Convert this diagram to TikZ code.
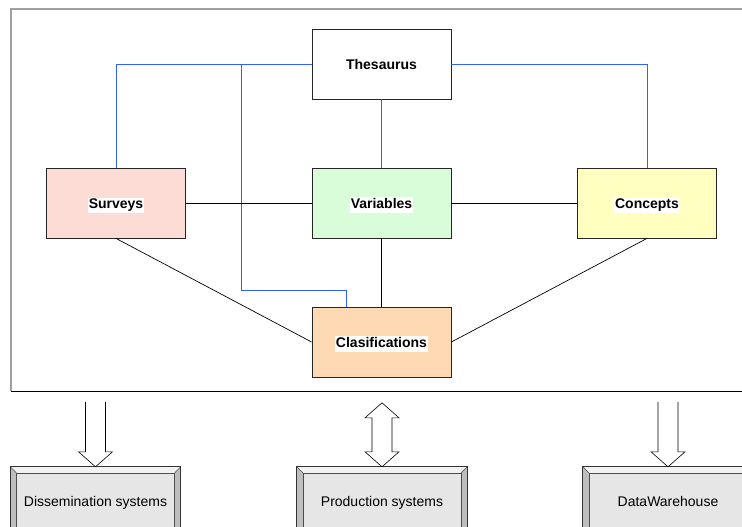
\documentclass[tikz,border=0pt]{standalone}
\usepackage{fontspec}
\setmainfont{Liberation Sans}
\usetikzlibrary{calc}
\definecolor{linkblue}{RGB}{50,95,255}
\definecolor{survfill}{RGB}{252,220,212}
\definecolor{varfill}{RGB}{217,252,217}
\definecolor{concfill}{RGB}{255,255,192}
\definecolor{clasfill}{RGB}{255,217,179}
\definecolor{sysface}{RGB}{230,230,230}
\definecolor{systop}{RGB}{242,242,242}
\definecolor{sysside}{RGB}{190,190,190}
\setlength{\fboxsep}{1.2pt}
% white-backed label, set a little below the box centre
\newcommand\boxlabel[1]{\rule{0pt}{15.5pt}\colorbox{white}{\vphantom{Tg}#1}}
\newcommand\systext[1]{\vphantom{Tg}#1}
% raised (bevelled) panel drawn on top of a node
\newcommand\bevelpanel[1]{%
  \fill[systop] (#1.north west) -- (#1.north east) -- ([shift={(-6,6)}]#1.north east) -- ([shift={(6,6)}]#1.north west) -- cycle;
  \fill[sysside] (#1.north west) -- ([shift={(6,6)}]#1.north west) -- ([shift={(6,0)}]#1.south west) -- (#1.south west) -- cycle;
  \fill[sysside] (#1.north east) -- ([shift={(-6,6)}]#1.north east) -- ([shift={(-6,0)}]#1.south east) -- (#1.south east) -- cycle;
  \draw[black!70, line width=0.6pt] ([shift={(6,0)}]#1.south west) -- ([shift={(6,6)}]#1.north west) -- ([shift={(-6,6)}]#1.north east) -- ([shift={(-6,0)}]#1.south east);
  \draw[black!70, line width=0.6pt] (#1.north west) -- ([shift={(6,6)}]#1.north west);
  \draw[black!70, line width=0.6pt] (#1.north east) -- ([shift={(-6,6)}]#1.north east);
  \draw[black!80, line width=0.8pt] (#1.south west) -- (#1.north west) -- (#1.north east) -- (#1.south east);
}
\begin{document}
\begin{tikzpicture}[x=1pt, y=-1pt,
  box/.style={draw=black!85, line width=0.8pt, minimum width=139pt, minimum height=70pt,
    inner sep=0pt, font=\fontsize{14}{16}\selectfont\bfseries},
  sysbox/.style={fill=sysface, minimum width=170pt, minimum height=66pt, inner sep=0pt,
    font=\fontsize{14}{16}\selectfont},
  systxt/.style={inner sep=0pt, font=\fontsize{14}{16}\selectfont},
  link/.style={draw=black, line width=0.7pt},
  tlink/.style={draw=linkblue, line width=0.8pt},
  hollow/.style={draw=black, line width=0.6pt, fill=white, line join=miter}
]
\useasboundingbox (0,0) rectangle (742,527);
\clip (0,0) rectangle (742,527);
\fill[white] (0,0) rectangle (742,527);

% enclosing frame
\draw[black, line width=1pt] (11,391) -- (760,391);
\draw[gray!75, line width=1.6pt] (11,391) -- (11,9) -- (760,9);

% concept boxes
\node[box, fill=white]     (thes) at (381.5,64)  {\boxlabel{Thesaurus}};
\node[box, fill=survfill]  (surv) at (116,203)   {\boxlabel{Surveys}};
\node[box, fill=varfill]   (var)  at (381.5,203) {\boxlabel{Variables}};
\node[box, fill=concfill]  (conc) at (647,203)   {\boxlabel{Concepts}};
\node[box, fill=clasfill]  (clas) at (381.5,342) {\boxlabel{Clasifications}};
\coordinate (bend) at (241,290);

% thesaurus links
\draw[tlink] (thes.west) -| (surv.north);
\draw[tlink] (thes.west) -| (bend) -| ([xshift=-35pt]clas.north);
\draw[tlink] (thes.east) -| (conc.north);
\draw[tlink] (thes.south) -- (var.north);

% relations
\draw[link] (surv.east) -- (var.west);
\draw[link] (var.east) -- (conc.west);
\draw[link] (var.south) -- (clas.north);
\draw[link] (surv.south) -- (clas.west);
\draw[link] (conc.south) -- (clas.east);

% systems
\node[sysbox] (dis)  at (95.5,500) {};
\node[sysbox] (prod) at (382,500)  {};
\node[sysbox] (dw)   at (668,500)  {};
\bevelpanel{dis}
\bevelpanel{prod}
\bevelpanel{dw}
\node[systxt] (distxt)  at ([yshift=-2.5pt]dis.center)  {\systext{Dissemination systems}};
\node[systxt] (prodtxt) at ([yshift=-2.5pt]prod.center) {\systext{Production systems}};
\node[systxt] (dwtxt)   at ([yshift=-2.5pt]dw.center)   {\systext{DataWarehouse}};

% hollow flow arrows
\draw[hollow] ([shift={(-10,-65)}]dis.north) -- ([shift={(-10,-15)}]dis.north) -- ([shift={(-17,-15)}]dis.north)
  -- (dis.north) -- ([shift={(17,-15)}]dis.north) -- ([shift={(10,-15)}]dis.north) -- ([shift={(10,-65)}]dis.north);
\draw[hollow] ([shift={(-10,-65)}]dw.north) -- ([shift={(-10,-15)}]dw.north) -- ([shift={(-17,-15)}]dw.north)
  -- (dw.north) -- ([shift={(17,-15)}]dw.north) -- ([shift={(10,-15)}]dw.north) -- ([shift={(10,-65)}]dw.north);
\draw[hollow] (prod.north) -- ([shift={(17,-15)}]prod.north) -- ([shift={(10,-15)}]prod.north)
  -- ([shift={(10,-49)}]prod.north) -- ([shift={(17,-49)}]prod.north) -- ([shift={(0,-64)}]prod.north)
  -- ([shift={(-17,-49)}]prod.north) -- ([shift={(-10,-49)}]prod.north) -- ([shift={(-10,-15)}]prod.north)
  -- ([shift={(-17,-15)}]prod.north) -- cycle;
\end{tikzpicture}
\end{document}
